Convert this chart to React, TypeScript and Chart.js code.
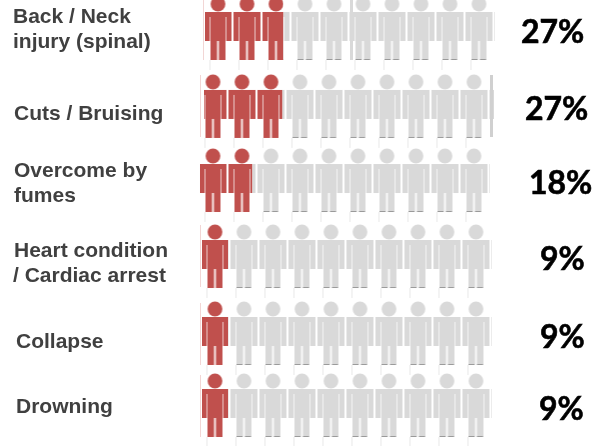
import React, { useEffect, useRef } from "react";
import { Chart, registerables } from "chart.js";

Chart.register(...registerables);

// ---- data ----
const categories: string[][] = [
  ["Back / Neck", "injury (spinal)"],
  ["Cuts / Bruising"],
  ["Overcome by", "fumes"],
  ["Heart condition", "/ Cardiac arrest"],
  ["Collapse"],
  ["Drowning"],
];
const affected: number[] = [27, 27, 18, 9, 9, 9];
const total = 100;

// ---- layout (not data) ----
const W = 602;
const H = 446;
const PX_PER_UNIT = 2.9; // one figure = 10 units = 29px
const ZERO_PX = 204;
const ROW_STEP_PX = 75.4;
const FIRST_ROW_PX = 33;
const BAR_H = 74;
const rowNudge = [0, 0.034, 0.016, 0.024, 0.045, 0];
const rowShift = [0.34, 0, -1.38, -0.69, -0.69, -0.69];
const iconPhase = [4.83, 3.1, 3.1, 3.79, 3.79, 3.79];
const labelX = [[13, 13], [14], [14, 14], [14, 13], [16], [16]];
const labelBase = [[23, 48], [120], [177, 202], [257, 282], [348], [413]];
const pctX = [521, 525, 529, 540, 540, 539];
const pctBase = [43, 120, 194, 270, 348, 420];
// thin edge strokes left over around the picture strips: [x, top, width, height, colour]
const edgeStrokes: [number, number, number, number, string][] = [
  [203, 0, 1, 60, "#F2D6D5"],
  [200, 75, 1, 62, "#F2D6D5"],
  [200, 225, 1, 62, "#F2D6D5"],
  [200, 303, 1, 62, "#F2D6D5"],
  [200, 375, 1, 62, "#F2D6D5"],
  [350, 0, 3, 60, "#D9D9D9"],
  [490, 75, 3, 62, "#D0D0D0"],
];

const RED = "#C0504D";
const GRAY = "#D9D9D9";

function makeTile(color: string, feet: boolean): HTMLCanvasElement {
  const c = document.createElement("canvas");
  c.width = 29;
  c.height = BAR_H;
  const g = c.getContext("2d")!;
  g.fillStyle = color;
  g.beginPath();
  g.arc(14.5, 8, 7.4, 0, Math.PI * 2);
  g.fill();
  g.fillRect(1, 16, 27, 29); // shoulders + arms
  g.fillRect(7, 45, 15, 19); // legs
  // arm gaps and leg gap are soft, not fully open
  g.globalCompositeOperation = "destination-out";
  g.fillStyle = "rgba(0,0,0,0.7)";
  g.fillRect(6, 21, 1, 24);
  g.fillRect(22, 21, 1, 24);
  g.fillStyle = "rgba(0,0,0,0.85)";
  g.fillRect(13.5, 45, 2, 19);
  g.globalCompositeOperation = "source-over";
  g.fillStyle = "#E8E8E8";
  g.fillRect(6, 64, 1, 10);
  if (feet) {
    g.fillStyle = "#9A9A9A";
    g.fillRect(7, 63, 6, 1);
    g.fillRect(15.5, 63, 6, 1);
  }
  return c;
}

const App = () => {
  const ref = useRef<HTMLCanvasElement | null>(null);

  useEffect(() => {
    const canvas = ref.current!;
    const g = canvas.getContext("2d")!;
    const redTile = makeTile(RED, false);
    const grayTile = makeTile(GRAY, true);

    const fill = (tile: HTMLCanvasElement) => (ctx: any) => {
      const i = ctx.dataIndex;
      const { x, y } = ctx.chart.scales;
      if (i === undefined || !x || !y) return tile === redTile ? RED : GRAY;
      const p = g.createPattern(tile, "repeat-x")!;
      const px = x.getPixelForValue(iconPhase[i]) - 14.5;
      const py = y.getPixelForValue(i + rowNudge[i]) - BAR_H / 2;
      p.setTransform(new DOMMatrix().translate(px, py));
      return p;
    };

    const textPlugin = {
      id: "rowText",
      afterDraw(chart: any) {
        const c = chart.ctx;
        c.save();
        edgeStrokes.forEach(([x, y, w, h, col]) => {
          c.fillStyle = col;
          c.fillRect(x, y, w, h);
        });
        c.textAlign = "left";
        c.textBaseline = "alphabetic";
        categories.forEach((lines, i) => {
          c.font = "bold 21px 'Liberation Sans'";
          c.fillStyle = "#404040";
          lines.forEach((t, k) => c.fillText(t, labelX[i][k], labelBase[i][k]));
          c.font = "bold 32px Lato";
          c.fillStyle = "#000000";
          c.strokeStyle = "#000000";
          c.lineWidth = 0.6;
          c.fillText(`${affected[i]}%`, pctX[i], pctBase[i]);
          c.strokeText(`${affected[i]}%`, pctX[i], pctBase[i]);
        });
        c.restore();
      },
    };

    const chart = new Chart(canvas, {
      type: "bar",
      data: {
        datasets: [
          {
            label: "Affected",
            data: affected.map((v, i) => ({ y: i + rowNudge[i], x: [rowShift[i], rowShift[i] + v] })),
            backgroundColor: fill(redTile),
            grouped: false,
            barThickness: BAR_H,
            borderWidth: 0,
            inflateAmount: 0,
          },
          {
            label: "Others",
            data: affected.map((v, i) => ({ y: i + rowNudge[i], x: [rowShift[i] + v, rowShift[i] + total] })),
            backgroundColor: fill(grayTile),
            grouped: false,
            barThickness: BAR_H,
            borderWidth: 0,
            inflateAmount: 0,
          },
        ] as any,
      },
      options: {
        indexAxis: "y",
        responsive: false,
        animation: false,
        events: [],
        layout: { padding: 0 },
        plugins: { legend: { display: false }, tooltip: { enabled: false }, title: { display: false } },
        scales: {
          x: {
            type: "linear",
            display: false,
            min: -ZERO_PX / PX_PER_UNIT,
            max: (W - ZERO_PX) / PX_PER_UNIT,
          },
          y: {
            type: "linear",
            display: false,
            offset: false,
            reverse: true,
            min: -FIRST_ROW_PX / ROW_STEP_PX,
            max: (H - FIRST_ROW_PX) / ROW_STEP_PX,
          },
        },
      } as any,
      plugins: [textPlugin],
    });
    return () => chart.destroy();
  }, []);

  return (
    <div style={{ position: "absolute", left: 0, top: 0, width: W, height: H }}>
      <canvas ref={ref} width={W} height={H} style={{ display: "block", width: W, height: H }} />
    </div>
  );
};

export default App;
